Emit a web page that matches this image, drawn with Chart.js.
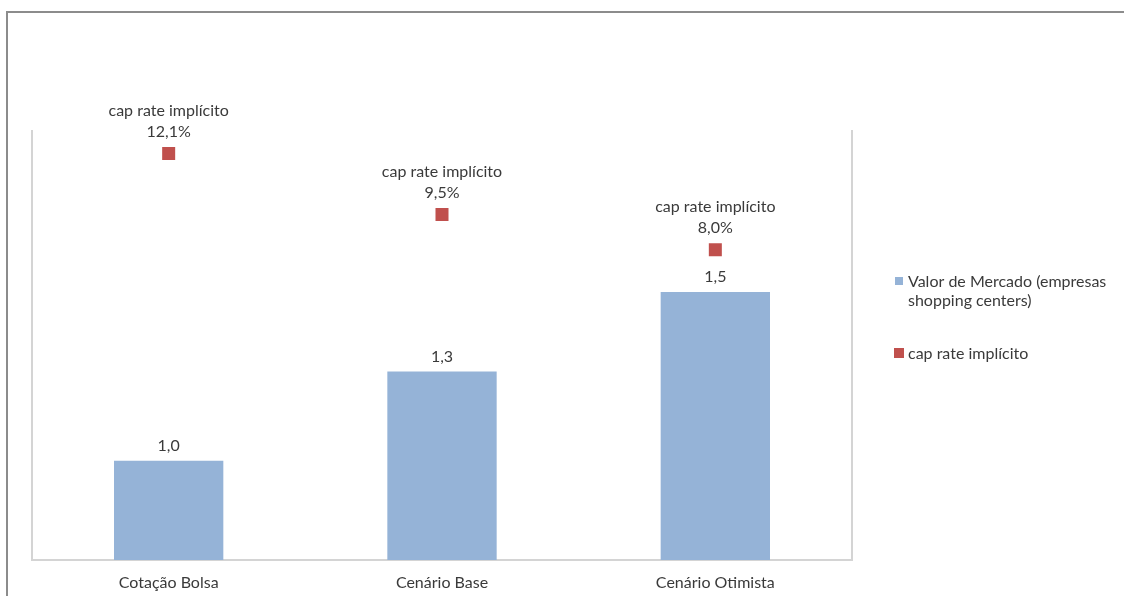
<!DOCTYPE html>
<html>
<head>
<meta charset="utf-8">
<script src="https://cdn.jsdelivr.net/npm/chart.js@4/dist/chart.umd.min.js"></script>
<style>
  body { margin: 0; background: #ffffff; overflow: hidden; }
  #wrap { position: relative; width: 1124px; height: 596px; }
  /* outer chart frame, only top and left edges are visible in the picture */
  #frame {
    position: absolute; left: 6px; top: 11px; width: 1300px; height: 800px;
    border-top: 2px solid #8c8c8c; border-left: 2px solid #8c8c8c;
    box-sizing: border-box;
  }
  canvas { position: absolute; left: 0; top: 0; }
</style>
</head>
<body>
<div id="wrap">
  <div id="frame"></div>
  <canvas id="myChart" width="1124" height="596"></canvas>
</div>
<script>
// --- data ---
const categories = ['Cotação Bolsa', 'Cenário Base', 'Cenário Otimista'];
const marketValue = [1.0, 1.27, 1.51];     // Valor de Mercado (bars)
const capRate = [12.1, 9.5, 8.0];          // cap rate implícito (%)

const barLabel = 'Valor de Mercado (empresas shopping centers)';
const pointLabel = 'cap rate implícito';

const FONT = 'Lato, "Liberation Sans", sans-serif';
const FONT_SIZE = 16;
const TEXT = '#3a3a3a';

function fmt(v, digits) {
  return v.toFixed(digits).replace('.', ',');
}

// light grey border around the plot (left, bottom, right)
const plotFrame = {
  id: 'plotFrame',
  beforeDatasetsDraw(chart) {
    const a = chart.chartArea;
    const ctx = chart.ctx;
    ctx.save();
    ctx.strokeStyle = '#d4d4d4';
    ctx.lineWidth = 2;
    ctx.beginPath();
    ctx.moveTo(a.left, a.top);
    ctx.lineTo(a.left, a.bottom);
    ctx.lineTo(a.right, a.bottom);
    ctx.lineTo(a.right, a.top);
    ctx.stroke();
    ctx.restore();
  }
};

// value labels above bars and points
const valueLabels = {
  id: 'valueLabels',
  afterDatasetsDraw(chart) {
    const ctx = chart.ctx;
    ctx.save();
    ctx.fillStyle = TEXT;
    ctx.font = FONT_SIZE + 'px ' + FONT;
    ctx.textAlign = 'center';
    ctx.textBaseline = 'middle';

    chart.getDatasetMeta(0).data.forEach((bar, i) => {
      ctx.fillText(fmt(marketValue[i], 1), bar.x, bar.y - 15);
    });
    chart.getDatasetMeta(1).data.forEach((pt, i) => {
      ctx.fillText(pointLabel, pt.x, pt.y - 43);
      ctx.fillText(fmt(capRate[i], 1) + '%', pt.x, pt.y - 22);
    });
    ctx.restore();
  }
};

// legend on the right, with the wrapped first entry
const sideLegend = {
  id: 'sideLegend',
  afterDraw(chart) {
    const ctx = chart.ctx;
    ctx.save();
    ctx.font = FONT_SIZE + 'px ' + FONT;
    ctx.textBaseline = 'middle';
    ctx.textAlign = 'left';

    ctx.fillStyle = '#95b3d7';
    ctx.fillRect(895, 277, 8, 8);
    ctx.fillStyle = TEXT;
    ctx.fillText('Valor de Mercado (empresas', 908, 282);
    ctx.fillText('shopping centers)', 908, 301);

    ctx.fillStyle = '#c0504d';
    ctx.fillRect(894, 348, 10, 10);
    ctx.fillStyle = TEXT;
    ctx.fillText(pointLabel, 908, 354);
    ctx.restore();
  }
};

const ctx = document.getElementById('myChart').getContext('2d');
const myChart = new Chart(ctx, {
  data: {
    labels: categories,
    datasets: [
      {
        type: 'bar',
        label: barLabel,
        data: marketValue,
        backgroundColor: '#95b3d7',
        yAxisID: 'y',
        categoryPercentage: 1,
        barPercentage: 0.4,
        order: 2
      },
      {
        type: 'line',
        label: pointLabel,
        data: capRate,
        showLine: false,
        pointStyle: 'rect',
        pointRadius: 9.2,
        pointBackgroundColor: '#c0504d',
        pointBorderColor: '#c0504d',
        pointBorderWidth: 0,
        yAxisID: 'y1',
        order: 1
      }
    ]
  },
  options: {
    responsive: false,
    animation: false,
    layout: {
      padding: { left: 32, right: 272, top: 130, bottom: 0 }
    },
    plugins: {
      legend: { display: false },
      tooltip: { enabled: false }
    },
    scales: {
      x: {
        grid: { display: false, drawTicks: false },
        border: { display: false },
        ticks: {
          color: TEXT,
          font: { family: FONT, size: FONT_SIZE },
          padding: 13,
          maxRotation: 0
        },
        afterFit(scale) { scale.height = 36; }
      },
      y: { display: false, min: 0.7, max: 2.0 },
      y1: { display: false, min: -5.2, max: 13.1 }
    }
  },
  plugins: [plotFrame, valueLabels, sideLegend]
});
</script>
</body>
</html>
